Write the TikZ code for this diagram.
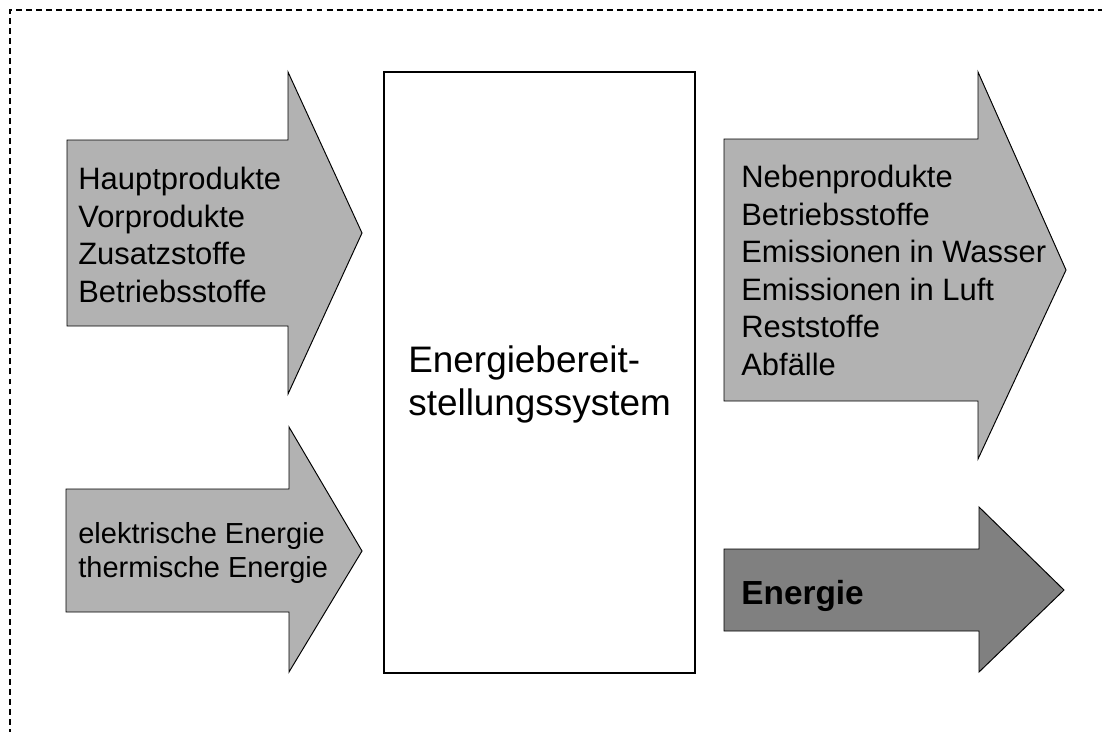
\documentclass[tikz,border=0pt]{standalone}
\usepackage{fontspec}
\setmainfont{Liberation Sans}
\definecolor{lightfill}{gray}{0.70}
\definecolor{darkfill}{gray}{0.50}

\begin{document}
\begin{tikzpicture}[x=0.02cm, y=-0.02cm, line join=miter,
    arrowlight/.style={fill=lightfill, draw=black, line width=0.55pt},
    arrowdark/.style={fill=darkfill, draw=black, line width=0.55pt},
    every node/.style={inner sep=0pt, anchor=base west, align=left},
    listtext/.style={font=\fontsize{17.6pt}{21.3pt}\selectfont}]
      \useasboundingbox (0,0) rectangle (1102,731);
      % dashed frame, only top and left edge inside the page
      \draw[line width=0.85pt, dash pattern=on 3.4pt off 2.3pt] (10,745) -- (10,10) -- (1115,10);
      % inputs
      \draw[arrowlight] (67,140) -- (288,140) -- (288,72) -- (362,233) -- (288,394) -- (288,326) -- (67,326) -- cycle;
      \draw[arrowlight] (66,489) -- (289,489) -- (289,427) -- (362,551) -- (289,672) -- (289,612) -- (66,612) -- cycle;
      % system
      \draw[line width=0.7pt, fill=white] (384,72) rectangle (695,673);
      % outputs
      \draw[arrowlight] (724,139) -- (978,139) -- (978,72) -- (1066,270) -- (978,459) -- (978,401) -- (724,401) -- cycle;
      \draw[arrowdark] (724,549) -- (979,549) -- (979,507) -- (1064,590) -- (979,672) -- (979,631) -- (724,631) -- cycle;
      % texts, anchored at the baseline of their last line
      \node[listtext] (stoffein) at (78,302) {Hauptprodukte\\Vorprodukte\\Zusatzstoffe\\Betriebsstoffe};
      \node[font=\fontsize{16.5pt}{19.2pt}\selectfont] (energieein) at (78,577) {elektrische Energie\\thermische Energie};
      \node[font=\fontsize{21pt}{24pt}\selectfont] (system) at (408,415) {Energiebereit-\\stellungssystem};
      \node[listtext] (stoffaus) at (741,375) {Nebenprodukte\\Betriebsstoffe\\Emissionen in Wasser\\Emissionen in Luft\\Reststoffe\\Abf\"alle};
      \node[font=\fontsize{19pt}{22pt}\selectfont\bfseries] (energieaus) at (741,604) {Energie};
\end{tikzpicture}
\end{document}
